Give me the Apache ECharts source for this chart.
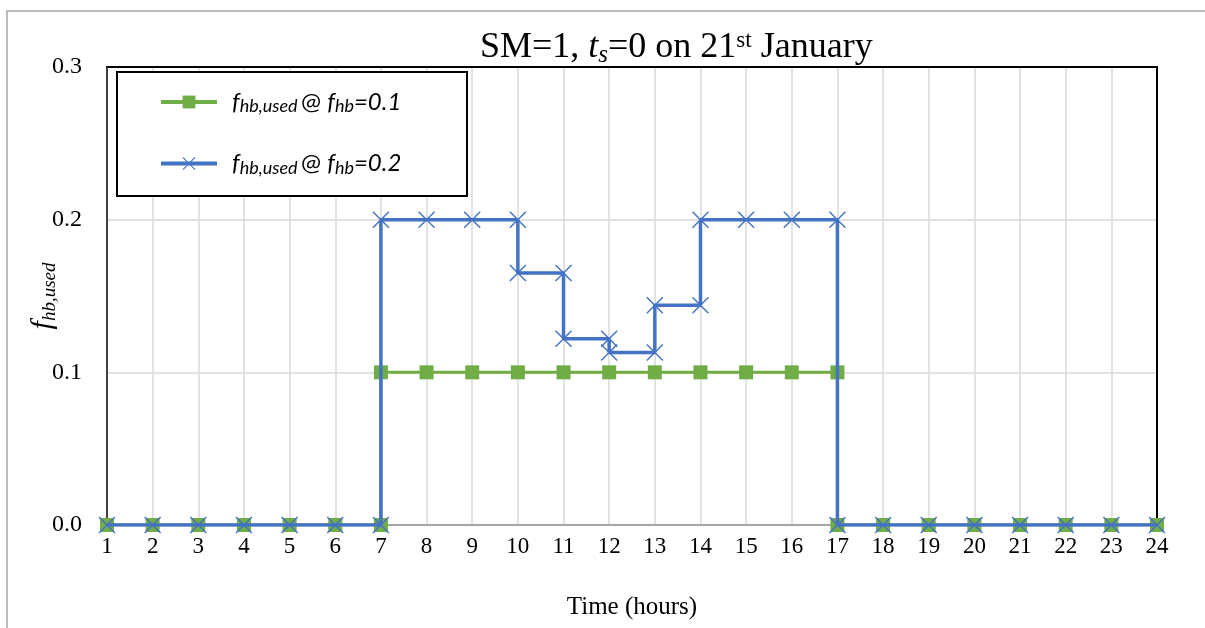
<!DOCTYPE html>
<html>
<head>
<meta charset="utf-8">
<script src="https://cdn.jsdelivr.net/npm/echarts@6/dist/echarts.min.js"></script>
<style>html,body{margin:0;padding:0;background:#fff}#c{width:1205px;height:628px}</style>
</head>
<body>
<div id="c"></div>
<script>
// Data
const xTicks = [1,2,3,4,5,6,7,8,9,10,11,12,13,14,15,16,17,18,19,20,21,22,23,24];
const greenHours  = [1,2,3,4,5,6,7,7,8,9,10,11,12,13,14,15,16,17,17,18,19,20,21,22,23,24];
const greenValues = [0,0,0,0,0,0,0,0.1,0.1,0.1,0.1,0.1,0.1,0.1,0.1,0.1,0.1,0.1,0,0,0,0,0,0,0,0];
const blueHours  = [1,2,3,4,5,6,7,7,8,9,10,10,11,11,12,12,13,13,14,14,15,16,17,17,18,19,20,21,22,23,24];
const blueValues = [0,0,0,0,0,0,0,0.2,0.2,0.2,0.2,0.165,0.165,0.122,0.122,0.113,0.113,0.144,0.144,0.2,0.2,0.2,0.2,0,0,0,0,0,0,0,0];
const seriesNames = ['green', 'blue'];
const legendFhb = ['0.1', '0.2'];

const serif = 'Liberation Serif';
const sans = 'Lato';
const crossPath = 'path://M0,0.6L0.6,0L10,9.4L9.4,10Z M9.4,0L10,0.6L0.6,10L0,9.4Z';

const chart = echarts.init(document.getElementById('c'), null, {renderer: 'canvas'});
const pairs = (xs, ys) => xs.map((x, i) => [x, ys[i]]);

const option = {
  animation: false,
  backgroundColor: '#fff',
  title: {
    text: 'SM=1, {it|t}{sub|s}=0 on 21{sup|st} January',
    left: 475, top: 23,
    textStyle: {
      fontFamily: serif, fontSize: 36, fontWeight: 'normal', color: '#000',
      rich: {
        it: {fontFamily: serif, fontSize: 36, fontStyle: 'italic', color: '#000'},
        sub: {fontFamily: serif, fontSize: 25, fontStyle: 'italic', color: '#000', padding: [15, 0, 0, 0]},
        sup: {fontFamily: serif, fontSize: 23, color: '#000', padding: [0, 0, 15, 0]}
      }
    }
  },
  grid: {left: 107, right: 48, top: 67, bottom: 103, show: false},
  xAxis: {
    type: 'value', min: 1, max: 24, interval: 1,
    name: 'Time (hours)', nameLocation: 'middle', nameGap: 70,
    nameTextStyle: {fontFamily: serif, fontSize: 25, color: '#000'},
    axisLine: {show: true, lineStyle: {color: '#A6A6A6', width: 2}},
    axisTick: {show: false},
    axisLabel: {fontFamily: serif, fontSize: 23, color: '#000', margin: 10,
      formatter: v => xTicks.includes(v) ? String(v) : ''},
    splitLine: {show: true, lineStyle: {color: '#D9D9D9', width: 1.5}}
  },
  yAxis: {
    type: 'value', min: 0, max: 0.3, interval: 0.1,
    name: '{f|f}{s|hb,used}', nameLocation: 'middle', nameGap: 48, nameRotate: 90,
    nameMoveOverlap: false,
    nameTextStyle: {
      rich: {
        f: {fontFamily: serif, fontSize: 30, fontStyle: 'italic', color: '#000'},
        s: {fontFamily: serif, fontSize: 19, fontStyle: 'italic', color: '#000', padding: [12, 0, 0, 0]}
      }
    },
    axisLine: {show: false},
    axisTick: {show: false},
    axisLabel: {fontFamily: serif, fontSize: 24, color: '#000', margin: 25, formatter: v => v.toFixed(1)},
    splitLine: {show: true, lineStyle: {color: '#D9D9D9', width: 1.5}}
  },
  legend: {
    orient: 'vertical', left: 154, top: 85, itemWidth: 56, itemHeight: 16, itemGap: 36, z: 10,
    data: seriesNames,
    lineStyle: {width: 4},
    formatter: n => {
      const k = seriesNames.indexOf(n);
      return '{f|f}{s|hb,used} {a|@ }{f|f}{s|hb}{f|=' + legendFhb[k] + '}';
    },
    textStyle: {
      padding: [0, 0, 0, 10],
      rich: {
        f: {fontFamily: sans, fontSize: 24, fontStyle: 'italic', color: '#000'},
        s: {fontFamily: sans, fontSize: 18, fontStyle: 'italic', color: '#000', padding: [9, 0, 0, 0]},
        a: {fontFamily: sans, fontSize: 24, color: '#000'}
      }
    }
  },
  graphic: [
    {type: 'rect', z: -10, silent: true, shape: {x: 7, y: 11, width: 1300, height: 700}, style: {fill: 'none', stroke: '#A6A6A6', lineWidth: 1.5}},
    {type: 'polyline', z: 1, silent: true, shape: {points: [[107, 525], [107, 67], [1157, 67], [1157, 525]]}, style: {fill: 'none', stroke: '#000', lineWidth: 2}},
    {type: 'line', z: 1, silent: true, shape: {x1: 107, y1: 525, x2: 107, y2: 67}, style: {stroke: '#404040', lineWidth: 2}},
    {type: 'rect', z: 5, silent: true, shape: {x: 117, y: 72, width: 350, height: 124}, style: {fill: '#fff', stroke: '#000', lineWidth: 2}}
  ],
  series: [
    {
      name: seriesNames[0], type: 'line', z: 3,
      data: pairs(greenHours, greenValues),
      symbol: 'rect', symbolSize: 14,
      itemStyle: {color: '#70AD47'},
      lineStyle: {color: '#70AD47', width: 3}
    },
    {
      name: seriesNames[1], type: 'line', z: 4,
      data: pairs(blueHours, blueValues),
      symbol: crossPath, symbolSize: 17,
      itemStyle: {color: '#4472C4'},
      lineStyle: {color: '#4472C4', width: 3.5}
    }
  ]
};
chart.setOption(option);
</script>
</body>
</html>
